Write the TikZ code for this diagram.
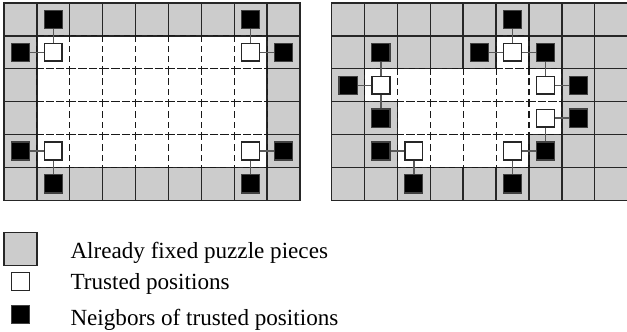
\documentclass[tikz,border=0pt]{standalone}
\usepackage{fontspec}
\setmainfont{Liberation Serif}
\usetikzlibrary{positioning}
\definecolor{piecegray}{HTML}{CCCCCC}
\definecolor{linkgray}{HTML}{5A5A5A}
\tikzset{
  fixedcell/.style={draw=black!85, fill=piecegray, line width=0.6pt},
  freecell/.style={draw=black!90, dash pattern=on 2.5pt off 2pt, line width=0.5pt},
  trusted/.style={draw=black!85, fill=white, line width=0.6pt, minimum size=2.7mm, inner sep=0pt},
  neighbor/.style={draw=black!75, fill=black, line width=0.5pt, minimum size=2.75mm, inner sep=0pt},
  link/.style={draw=linkgray, line width=0.6pt}
}

\begin{document}
\begin{tikzpicture}[x=5mm, y=5mm]
  \useasboundingbox (0,0) rectangle (19.06,10.09);

  % left board
  \begin{scope}[shift={(0.12,10)}, yscale=-1]
    \foreach \r/\a/\b in {0/0/8, 1/0/0, 1/8/8, 2/0/0, 2/8/8, 3/0/0, 3/8/8, 4/0/0, 4/8/8, 5/0/8}
      \foreach \c in {\a,...,\b}
        \draw[fixedcell] (\c,\r) rectangle +(1,1);
    \foreach \r in {1,...,4}
      \foreach \c in {1,...,7}
        \draw[freecell] (\c,\r) rectangle +(1,1);

    \node[trusted] (lt11) at (1.5,1.5) {};
    \node[trusted] (lt71) at (7.5,1.5) {};
    \node[trusted] (lt14) at (1.5,4.5) {};
    \node[trusted] (lt74) at (7.5,4.5) {};
    \node[neighbor] (ln10) at (1.5,0.5) {};
    \node[neighbor] (ln01) at (0.5,1.5) {};
    \node[neighbor] (ln70) at (7.5,0.5) {};
    \node[neighbor] (ln81) at (8.5,1.5) {};
    \node[neighbor] (ln04) at (0.5,4.5) {};
    \node[neighbor] (ln15) at (1.5,5.5) {};
    \node[neighbor] (ln84) at (8.5,4.5) {};
    \node[neighbor] (ln75) at (7.5,5.5) {};

    \draw[link] (lt11) -- (ln10);
    \draw[link] (lt11) -- (ln01);
    \draw[link] (lt71) -- (ln70);
    \draw[link] (lt71) -- (ln81);
    \draw[link] (lt14) -- (ln04);
    \draw[link] (lt14) -- (ln15);
    \draw[link] (lt74) -- (ln84);
    \draw[link] (lt74) -- (ln75);
  \end{scope}

  % right board
  \begin{scope}[shift={(10.08,10)}, yscale=-1]
    \foreach \r/\a/\b in {0/0/8, 1/0/4, 1/6/8, 2/0/0, 2/7/8, 3/0/1, 3/7/8, 4/0/1, 4/6/8, 5/0/8}
      \foreach \c in {\a,...,\b}
        \draw[fixedcell] (\c,\r) rectangle +(1,1);
    \foreach \r/\a/\b in {1/5/5, 2/1/6, 3/2/6, 4/2/5}
      \foreach \c in {\a,...,\b}
        \draw[freecell] (\c,\r) rectangle +(1,1);

    \node[trusted] (rt51) at (5.5,1.5) {};
    \node[trusted] (rt12) at (1.5,2.5) {};
    \node[trusted] (rt62) at (6.5,2.5) {};
    \node[trusted] (rt63) at (6.5,3.5) {};
    \node[trusted] (rt24) at (2.5,4.5) {};
    \node[trusted] (rt54) at (5.5,4.5) {};
    \node[neighbor] (rn50) at (5.5,0.5) {};
    \node[neighbor] (rn41) at (4.5,1.5) {};
    \node[neighbor] (rn61) at (6.5,1.5) {};
    \node[neighbor] (rn11) at (1.5,1.5) {};
    \node[neighbor] (rn02) at (0.5,2.5) {};
    \node[neighbor] (rn13) at (1.5,3.5) {};
    \node[neighbor] (rn72) at (7.5,2.5) {};
    \node[neighbor] (rn73) at (7.5,3.5) {};
    \node[neighbor] (rn64) at (6.5,4.5) {};
    \node[neighbor] (rn14) at (1.5,4.5) {};
    \node[neighbor] (rn25) at (2.5,5.5) {};
    \node[neighbor] (rn55) at (5.5,5.5) {};

    \draw[link] (rt51) -- (rn50);
    \draw[link] (rt51) -- (rn41);
    \draw[link] (rt51) -- (rn61);
    \draw[link] (rt12) -- (rn11);
    \draw[link] (rt12) -- (rn02);
    \draw[link] (rt12) -- (rn13);
    \draw[link] (rt62) -- (rn61);
    \draw[link] (rt62) -- (rn72);
    \draw[link] (rt63) -- (rn73);
    \draw[link] (rt63) -- (rn64);
    \draw[link] (rt54) -- (rn64);
    \draw[link] (rt54) -- (rn55);
    \draw[link] (rt24) -- (rn14);
    \draw[link] (rt24) -- (rn25);
  \end{scope}

  % legend
  \node[fixedcell, minimum size=5mm, inner sep=0pt] (keyfixed) at (0.62,2.52) {};
  \node[trusted] (keytrusted) at (0.62,1.53) {};
  \node[neighbor] (keyneighbor) at (0.62,0.52) {};
  \node[anchor=base west, inner sep=0pt] (txtfixed) at (2.13,2.24) {Already fixed puzzle pieces};
  \node[anchor=base west, inner sep=0pt] (txttrusted) at (2.13,1.28) {Trusted positions};
  \node[anchor=base west, inner sep=0pt] (txtneighbor) at (2.13,0.21) {Neigbors of trusted positions};
\end{tikzpicture}
\end{document}
